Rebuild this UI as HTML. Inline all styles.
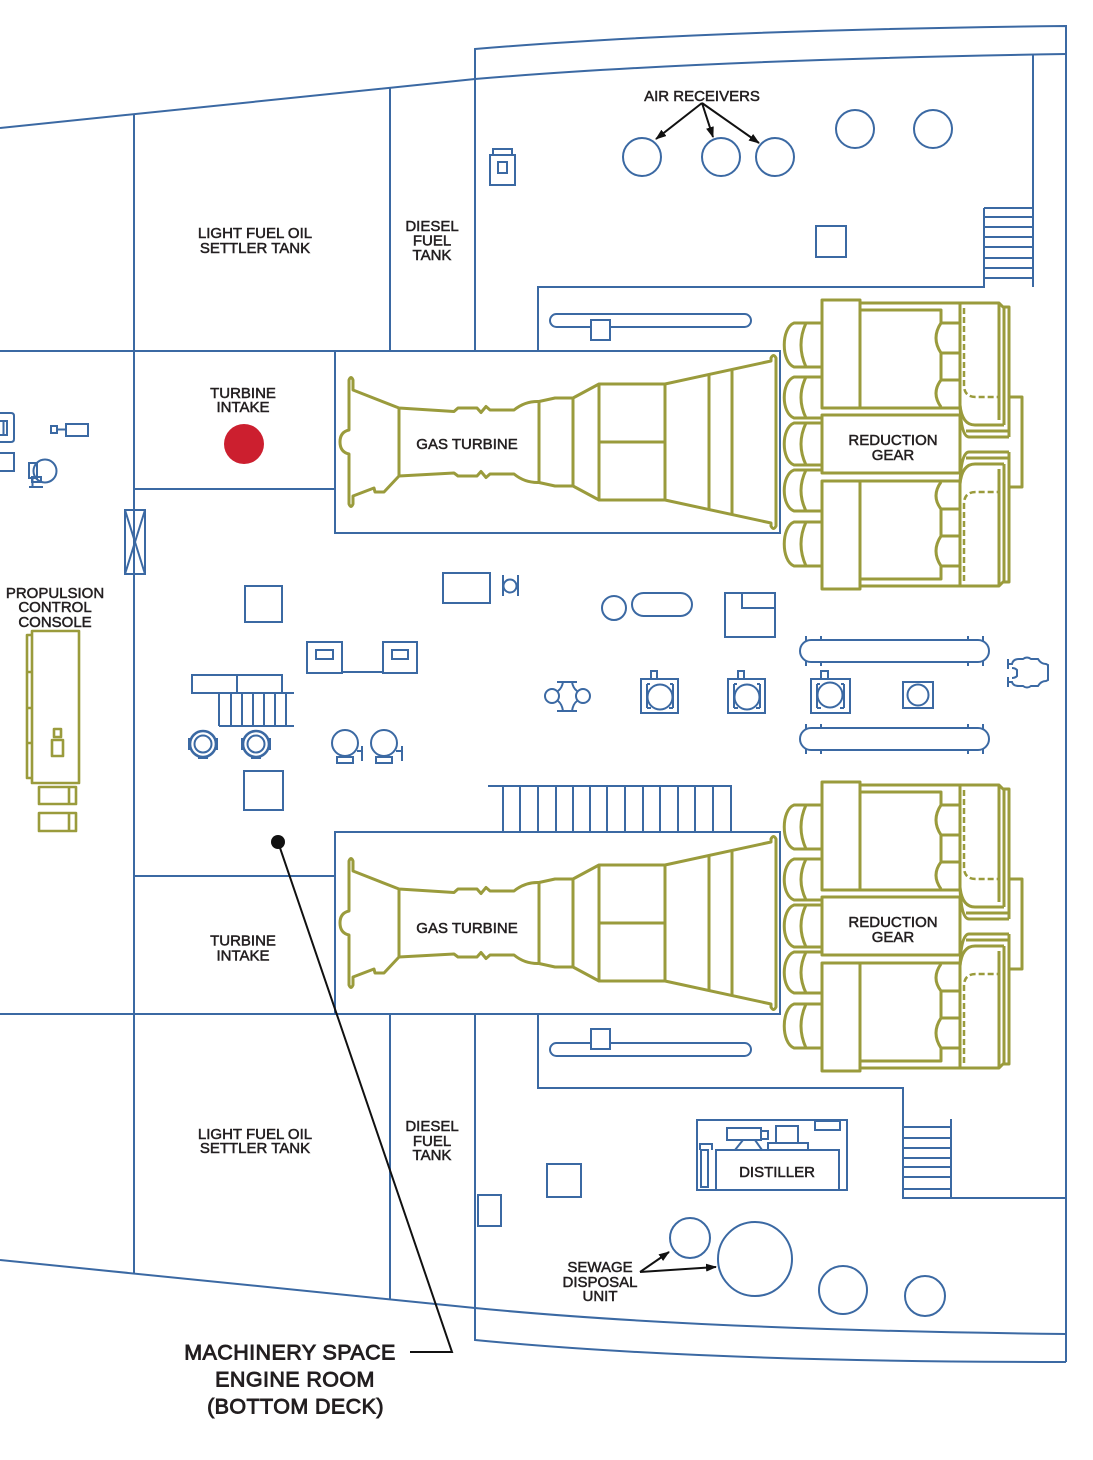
<!DOCTYPE html>
<html><head><meta charset="utf-8">
<style>
html,body{margin:0;padding:0;background:#fff;}
svg{display:block;}
text{font-family:"Liberation Sans",Arial,sans-serif;fill:#231f20;stroke:#231f20;stroke-width:0.5px;}
.big{font-size:21.5px;stroke-width:0.9px;letter-spacing:0.4px;}
.lb{font-size:15px;}
</style></head><body>
<svg width="1093" height="1460" viewBox="0 0 1093 1460" xmlns="http://www.w3.org/2000/svg" xmlns:xlink="http://www.w3.org/1999/xlink">
<defs>
<marker id="ah" markerWidth="11" markerHeight="8" refX="10" refY="4" orient="auto" markerUnits="userSpaceOnUse"><path d="M0,0 L11,4 L0,8 z" fill="#111"/></marker>

<g id="turb" fill="none" stroke="#9a9b3c" stroke-width="3" stroke-linejoin="round">
<path d="M353,390 L353,380 Q351,375 349,380 L349,430 Q340,432 340,442 Q340,452 349,454 L349,504 Q351,509 353,504 L353,496 L374,488 L375,492 L384,492 L399,476 L454,473 L458,476 L477,476 L481,471.5 L486,477.5 L490,474 L514,474 Q525,483 539,482.5 L555,486 L573,486 L599,500 L665,500 L771,523 L771,526 Q773.5,531 776,526 L776,358 Q773.5,353 771,358 L771,361 L665,384 L599,384 L573,398 L555,398 L539,401.5 Q525,401 514,410 L490,410 L486,406.5 L481,412.5 L477,408 L458,408 L454,411.5 L399,408 Z"/>
<path d="M399,408 L399,476 M539,401.5 L539,482.5 M573,398 L573,486 M599,384 L599,500 M665,384 L665,500 M599,442 L665,442 M709,375 L709,510 M732,370 L732,515"/>
</g>

<g id="gh" fill="none" stroke="#9a9b3c" stroke-width="3" stroke-linejoin="round">
<rect x="822" y="300" width="38" height="108"/>
<path d="M860,303 L999,303 L1003,307 L1009,307 L1009,437"/>
<path d="M860,310 L941,310 L941,323 Q931,338 941,353 L941,380 Q931,393 941,407"/>
<path d="M941,323 L960,323 M941,353 L960,353 M941,380 L960,380"/>
<path d="M822,408 L960,408"/>
<path d="M960,303 L960,405 Q962,425 975,425 L1004,425"/>
<path d="M960,405 Q961,437 969,437 L1009,437"/>
<path d="M966,431 L1009,431"/>
<path d="M999,303 L999,420"/>
<path d="M1004,307 L1004,425"/>
<path d="M964,308 L964,385 Q964,397 976,397 L999,397" stroke-dasharray="6 3" stroke-width="2.5"/>
</g>

<g id="gear">
<use xlink:href="#gh" href="#gh"/>
<use xlink:href="#gh" href="#gh" transform="matrix(1 0 0 -1 0 889)"/>
<g fill="none" stroke="#9a9b3c" stroke-width="3" stroke-linejoin="round">
<rect x="822" y="415" width="138" height="58"/>
<path d="M1009,397 L1022,397 L1022,487 L1009,487"/>
<path d="M822,323 L794,323 C781,328 781,362 794,367 L822,367 M806,323 Q796,345 806,367"/>
<path d="M822,377 L794,377 C781,382 781,413 794,418 L822,418 M806,377 Q796,397.5 806,418"/>
<path d="M822,423 L794,423 C781,428 781,460 794,465 L822,465 M806,423 Q796,444 806,465"/>
<path d="M822,470 L794,470 C781,475 781,506 794,511 L822,511 M806,470 Q796,490.5 806,511"/>
<path d="M822,522 L794,522 C781,527 781,561 794,566 L822,566 M806,522 Q796,544 806,566"/>
</g>
</g>
</defs>

<rect x="0" y="0" width="1093" height="1460" fill="#fff"/>

<!-- hull & compartments -->
<g fill="none" stroke="#3b69a3" stroke-width="2">
<path d="M0,128 L475,79 Q700,60 1066,54"/>
<path d="M475,351 L475,49 Q700,30 1066,26 L1066,1362"/>
<path d="M1033,54 L1033,287"/>
<path d="M134,114 L134,1274"/>
<path d="M390,88 L390,351"/>
<path d="M390,1014 L390,1300"/>
<path d="M0,351 L335,351"/>
<path d="M134,489 L335,489"/>
<rect x="335" y="351" width="445" height="182"/>
<path d="M538,351 L538,287 L984,287 L984,208"/>
<path d="M984,208 L1033,208 M984,217 L1033,217 M984,227 L1033,227 M984,237 L1033,237 M984,247 L1033,247 M984,258 L1033,258 M984,268 L1033,268 M984,278 L1033,278"/>
<rect x="335" y="832" width="445" height="182"/>
<path d="M0,1014 L335,1014"/>
<path d="M134,876 L335,876"/>
<path d="M538,1014 L538,1088 L903,1088 L903,1198 L1066,1198"/>
<path d="M951,1119 L951,1198"/>
<path d="M903,1127 L951,1127 M903,1138 L951,1138 M903,1148 L951,1148 M903,1158 L951,1158 M903,1167 L951,1167 M903,1177 L951,1177 M903,1189 L951,1189"/>
<path d="M475,1014 L475,1340 Q700,1362 1066,1362"/>
<path d="M0,1260 L475,1308 Q700,1330 1066,1334"/>
</g>

<!-- blue equipment -->
<g fill="none" stroke="#3b69a3" stroke-width="2">
<rect x="490" y="155" width="25" height="30"/>
<rect x="493" y="149" width="19" height="6"/>
<rect x="498" y="162" width="9" height="11"/>
<circle cx="642" cy="157" r="19"/>
<circle cx="721" cy="157" r="19"/>
<circle cx="775" cy="157" r="19"/>
<circle cx="855" cy="129" r="19"/>
<circle cx="933" cy="129" r="19"/>
<rect x="816" y="226" width="30" height="31"/>
<rect x="550" y="314" width="201" height="13" rx="6.5"/>
<rect x="591" y="320" width="19" height="20" fill="#fff"/>
<rect x="550" y="1043" width="201" height="13" rx="6.5"/>
<rect x="591" y="1029" width="19" height="20" fill="#fff"/>

<path d="M-2,413 L11,413 Q14,413 14,416 L14,439 Q14,442 11,442 L-2,442"/>
<path d="M-2,421 L7,421 L7,435 L-2,435 M3.5,421 L3.5,435"/>
<path d="M-2,453 L14,453 L14,471 L-2,471"/>
<rect x="51" y="426" width="6" height="7"/>
<path d="M57,429.5 L66,429.5"/>
<rect x="66" y="424" width="22" height="12"/>
<circle cx="45" cy="471" r="11.5"/>
<rect x="29" y="463" width="8" height="15"/>
<rect x="32" y="477" width="9" height="5"/>
<path d="M32.5,478 L32.5,487 M29,487 L43,487"/>
<rect x="125" y="510" width="20" height="64"/>
<path d="M125,510 L145,574 M145,510 L125,574"/>

<rect x="245" y="586" width="37" height="36"/>
<rect x="307" y="642" width="35" height="31"/>
<rect x="316" y="650" width="17" height="9"/>
<rect x="383" y="642" width="34" height="31"/>
<rect x="392" y="650" width="16" height="9"/>
<path d="M342,672 L383,672"/>
<rect x="192" y="675" width="45" height="18"/>
<rect x="237" y="675" width="45" height="18"/>
<path d="M219,693 L294,693 M219,726 L294,726 M219,693 L219,726 M231,693 L231,726 M242,693 L242,726 M253,693 L253,726 M264,693 L264,726 M275,693 L275,726 M286,693 L286,726"/>
<circle cx="203" cy="744" r="13" stroke-width="2.6"/>
<circle cx="203" cy="744" r="8.5"/>
<circle cx="256" cy="744" r="13" stroke-width="2.6"/>
<circle cx="256" cy="744" r="8.5"/>
<rect x="244" y="771" width="39" height="39"/>
<circle cx="345" cy="743" r="13"/>
<rect x="337" y="757" width="16" height="6" fill="#fff"/>
<path d="M357,751 L362,751 M362,746 L362,761"/>
<circle cx="384" cy="743" r="13"/>
<rect x="376" y="757" width="16" height="6" fill="#fff"/>
<path d="M396,751 L402,751 M402,746 L402,761"/>

<rect x="443" y="573" width="47" height="30"/>
<path d="M503,575 L503,596 M518,575 L518,596"/>
<circle cx="510" cy="586" r="6.5"/>
<circle cx="614" cy="608" r="12"/>
<rect x="632" y="593" width="60" height="23" rx="11.5"/>
<rect x="725" y="593" width="50" height="44"/>
<path d="M742,593 L742,608 L775,608"/>
<circle cx="552" cy="696" r="7"/>
<circle cx="583" cy="696" r="7"/>
<path d="M557,682 L577,682 M557,711 L577,711"/>
<path d="M563,682 Q562,688 558,691 M572,682 Q573,688 577,691 M558,701 Q562,704 563,711 M577,701 Q573,704 572,711"/>
<rect x="641" y="679" width="37" height="34"/>
<rect x="651" y="671" width="6" height="8"/>
<circle cx="660" cy="697" r="12.5"/>
<path d="M647,684 L647,708 M673,684 L673,708 M647,684 L650,684 M647,708 L651,708 M673,684 L670,684 M673,708 L669,708"/>
<rect x="728" y="679" width="37" height="34"/>
<rect x="738" y="671" width="6" height="8"/>
<circle cx="747" cy="697" r="12.5"/>
<path d="M734,684 L734,708 M760,684 L760,708 M734,684 L737,684 M734,708 L738,708 M760,684 L757,684 M760,708 L756,708"/>
<rect x="811" y="679" width="39" height="34"/>
<rect x="821" y="671" width="7" height="8"/>
<circle cx="830" cy="695" r="12.5"/>
<path d="M817,684 L817,708 M844,684 L844,708 M817,684 L820,684 M817,708 L821,708 M844,684 L841,684 M844,708 L840,708"/>
<rect x="903" y="682" width="30" height="26"/>
<circle cx="918" cy="695" r="10.5"/>
<rect x="800" y="640" width="189" height="22" rx="11"/>
<rect x="800" y="728" width="189" height="22" rx="11"/>
<path d="M806,636 L806,641 M821,636 L821,641 M968,636 L968,641 M983,636 L983,641 M806,661 L806,666 M821,661 L821,666 M968,661 L968,666 M983,661 L983,666"/>
<path d="M806,724 L806,729 M821,724 L821,729 M968,724 L968,729 M983,724 L983,729 M806,749 L806,754 M821,749 L821,754 M968,749 L968,754 M983,749 L983,754"/>
<path d="M1008,659 L1008,669 M1008,677 L1008,687"/>
<path d="M1008,664 L1012,664 Q1013,659 1019,659 L1023,659 Q1027,656 1031,659 L1038,659 Q1041,664 1046,664 L1048,665 L1048,680 L1046,681 Q1041,681 1038,686 L1031,686 Q1027,689 1023,686 L1019,686 Q1013,686 1012,682 L1008,682"/>
<path d="M1012,668 Q1015,668 1017,670 L1017,676 Q1015,678 1012,678"/>

<path d="M488,786 L731,786 L731,832 M503,786 L503,832 M520,786 L520,832 M538,786 L538,832 M556,786 L556,832 M573,786 L573,832 M590,786 L590,832 M607,786 L607,832 M625,786 L625,832 M643,786 L643,832 M660,786 L660,832 M678,786 L678,832 M695,786 L695,832 M713,786 L713,832"/>

<rect x="547" y="1164" width="34" height="33"/>
<rect x="478" y="1195" width="23" height="31"/>
<rect x="697" y="1120" width="150" height="70"/>
<rect x="716" y="1150" width="123" height="40"/>
<rect x="701" y="1150" width="7" height="37"/>
<path d="M700,1150 L700,1144 L712,1144 L712,1150"/>
<rect x="727" y="1128" width="34" height="12"/>
<rect x="761" y="1131" width="7" height="8"/>
<rect x="776" y="1126" width="22" height="17"/>
<path d="M768,1150 L768,1143 L808,1143 L808,1150"/>
<rect x="815" y="1121" width="25" height="9"/>
<path d="M735,1150 L743,1140 M755,1140 L762,1150"/>
<circle cx="690" cy="1238" r="20"/>
<circle cx="755" cy="1259" r="37"/>
<circle cx="843" cy="1290" r="24"/>
<circle cx="925" cy="1296" r="20"/>
</g>

<circle cx="244" cy="444" r="20" fill="#cc1f2f"/>

<g fill="none" stroke="#9a9b3c" stroke-width="2.6" stroke-linejoin="round">
<rect x="32" y="631" width="47" height="152"/>
<path d="M32,635 L27,635 L27,778 L32,778 M27,672 L32,672 M27,708 L32,708 M27,743 L32,743"/>
<rect x="54" y="729" width="7" height="8"/>
<rect x="52" y="740" width="11" height="16"/>
<rect x="39" y="787" width="37" height="17"/>
<path d="M69,787 L69,804"/>
<rect x="39" y="813" width="37" height="18"/>
<path d="M69,813 L69,831"/>
</g>

<use xlink:href="#turb" href="#turb"/>
<use xlink:href="#turb" href="#turb" transform="translate(0,481)"/>
<use xlink:href="#gear" href="#gear"/>
<use xlink:href="#gear" href="#gear" transform="translate(0,482)"/>

<g fill="#3b69a3">
<rect x="188" y="738" width="3" height="12"/>
<rect x="215" y="738" width="3" height="12"/>
<rect x="198" y="756" width="10" height="3"/>
<rect x="241" y="738" width="3" height="12"/>
<rect x="268" y="738" width="3" height="12"/>
<rect x="251" y="756" width="10" height="3"/>
</g>

<g fill="none" stroke="#111" stroke-width="2">
<path d="M702,103 L656,139" marker-end="url(#ah)"/>
<path d="M702,103 L713,137" marker-end="url(#ah)"/>
<path d="M702,103 L759,143" marker-end="url(#ah)"/>
<path d="M640,1272 L669,1252" marker-end="url(#ah)"/>
<path d="M640,1272 L716,1267" marker-end="url(#ah)"/>
<path d="M278,842 L452,1352 L410,1352"/>
</g>
<circle cx="278" cy="842" r="7" fill="#111"/>

<g text-anchor="middle">
<text x="702" y="101" class="lb">AIR RECEIVERS</text>
<text x="255" y="238" class="lb">LIGHT FUEL OIL</text>
<text x="255" y="253" class="lb">SETTLER TANK</text>
<text x="432" y="231" class="lb">DIESEL</text>
<text x="432" y="245.5" class="lb">FUEL</text>
<text x="432" y="260" class="lb">TANK</text>
<text x="243" y="398" class="lb">TURBINE</text>
<text x="243" y="412" class="lb">INTAKE</text>
<text x="467" y="449" class="lb">GAS TURBINE</text>
<text x="893" y="445" class="lb">REDUCTION</text>
<text x="893" y="460" class="lb">GEAR</text>
<text x="55" y="598" class="lb">PROPULSION</text>
<text x="55" y="612" class="lb">CONTROL</text>
<text x="55" y="627" class="lb">CONSOLE</text>
<text x="243" y="945.5" class="lb">TURBINE</text>
<text x="243" y="960.5" class="lb">INTAKE</text>
<text x="467" y="933" class="lb">GAS TURBINE</text>
<text x="893" y="927" class="lb">REDUCTION</text>
<text x="893" y="942" class="lb">GEAR</text>
<text x="255" y="1139" class="lb">LIGHT FUEL OIL</text>
<text x="255" y="1153" class="lb">SETTLER TANK</text>
<text x="432" y="1131" class="lb">DIESEL</text>
<text x="432" y="1146" class="lb">FUEL</text>
<text x="432" y="1160" class="lb">TANK</text>
<text x="777" y="1177" class="lb">DISTILLER</text>
<text x="600" y="1272" class="lb">SEWAGE</text>
<text x="600" y="1287" class="lb">DISPOSAL</text>
<text x="600" y="1301" class="lb">UNIT</text>
<text x="290" y="1359.5" class="big">MACHINERY SPACE</text>
<text x="295" y="1386.5" class="big">ENGINE ROOM</text>
<text x="295.5" y="1413.5" class="big">(BOTTOM DECK)</text>
</g>
</svg>
</body></html>
